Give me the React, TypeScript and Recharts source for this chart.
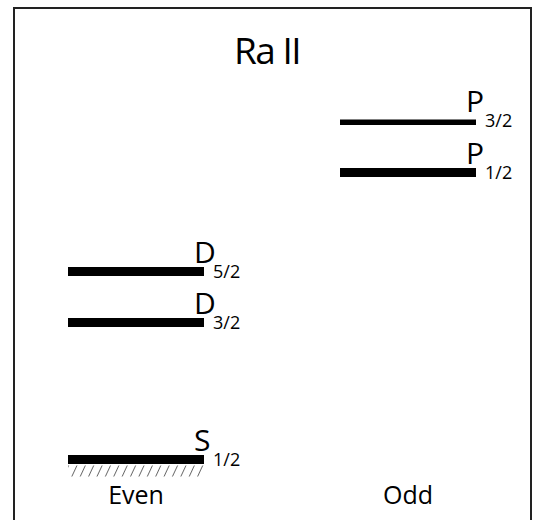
import { LineChart, Line, XAxis, YAxis, ReferenceArea } from 'recharts';

// Ra II energy levels (schematic spacing, not to scale)
const parityCategories = ['Even', 'Odd'];
const levelTerms = ['S', 'D', 'D', 'P', 'P'];
const levelJ = ['1/2', '3/2', '5/2', '1/2', '3/2'];
const levelParity = ['Even', 'Even', 'Even', 'Odd', 'Odd'];
const levelEnergy = [0, 137, 188, 287, 339];

const FONT = "'Open Sans', 'DejaVu Sans', sans-serif";

const levels = levelTerms.map((term, i) => {
  const col = parityCategories.indexOf(levelParity[i]);
  return {
    key: `${term}${levelJ[i]}`,
    term,
    j: levelJ[i],
    data: [
      { x: col * 2, e: levelEnergy[i] },
      { x: col * 2 + 1, e: levelEnergy[i] },
    ],
  };
});

const makeLabel = (term: string, j: string) => (props: any) => {
  if (props.index !== 1) return <g />;
  const { x, y } = props;
  return (
    <g>
      <text x={x - 10} y={y - 9} style={{ fontSize: 30, fontFamily: FONT, fill: '#000' }}>
        {term}
      </text>
      <text x={x + 9} y={y + 6} style={{ fontSize: 18, fontFamily: FONT, fill: '#000' }}>
        {j}
      </text>
    </g>
  );
};

const ParityTick = (props: any) => {
  const { x, y, payload } = props;
  const idx = Math.round((payload.value - 0.5) / 2);
  return (
    <text x={x} y={y + 16} textAnchor='middle' style={{ fontSize: 25, fontFamily: FONT, fill: '#000' }}>
      {parityCategories[idx]}
    </text>
  );
};

export default function App() {
  return (
    <div style={{ position: 'relative', width: 534, height: 520, fontFamily: FONT, background: '#fff' }}>
      <style>{'body{margin:0}'}</style>
      <div
        style={{
          position: 'absolute',
          left: 13,
          top: 7,
          width: 515,
          height: 513,
          borderTop: '2px solid #222',
          borderLeft: '2px solid #222',
          borderRight: '2px solid #222',
        }}
      />
      <div
        style={{
          position: 'absolute',
          left: 0,
          width: 534,
          top: 25,
          textAlign: 'center',
          fontSize: 37,
          letterSpacing: -1.5,
          lineHeight: '50px',
          color: '#000',
        }}
      >
        Ra II
      </div>
      <div style={{ position: 'absolute', left: 0, top: 0 }}>
        <LineChart width={534} height={520} margin={{ top: 119.5, right: 58, bottom: 0, left: 68 }}>
          <defs>
            <pattern id='hatch' patternUnits='userSpaceOnUse' width={7.6} height={8} patternTransform='rotate(25)'>
              <line x1={0} y1={0} x2={0} y2={8} stroke='#222' strokeWidth={1.3} />
            </pattern>
          </defs>
          <XAxis
            dataKey='x'
            type='number'
            domain={[0, 3]}
            ticks={[0.5, 2.5]}
            axisLine={false}
            tickLine={false}
            tick={<ParityTick />}
            height={40.5}
            allowDataOverflow
          />
          <YAxis hide type='number' domain={[-20, 340]} allowDataOverflow />
          <ReferenceArea x1={0} x2={1} y1={-17} y2={-6} fill='url(#hatch)' fillOpacity={1} stroke='none' />
          {levels.map((lv) => (
            <Line
              key={lv.key}
              data={lv.data}
              dataKey='e'
              stroke='#000'
              strokeWidth={9}
              dot={false}
              activeDot={false}
              isAnimationActive={false}
              label={makeLabel(lv.term, lv.j)}
            />
          ))}
        </LineChart>
      </div>
    </div>
  );
}
